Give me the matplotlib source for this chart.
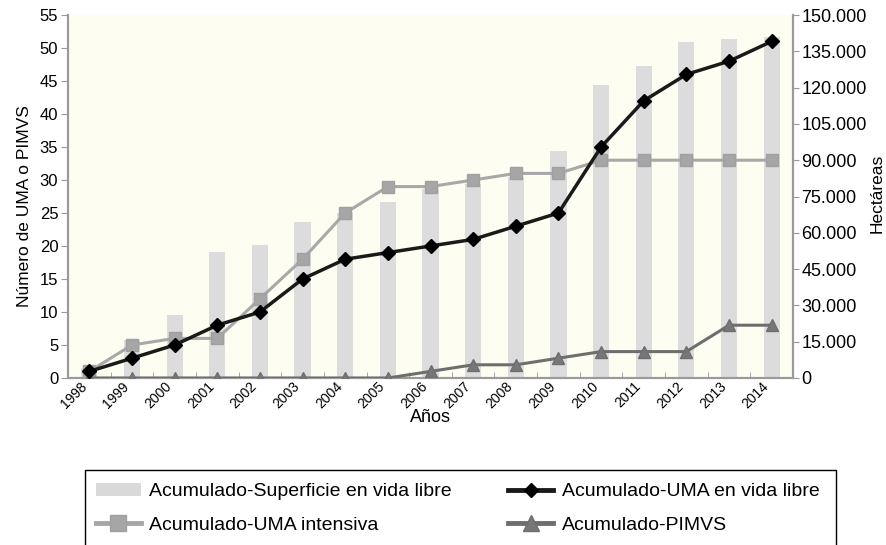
import matplotlib.pyplot as plt
import matplotlib.transforms as mtransforms
from matplotlib.ticker import FuncFormatter, FixedLocator
from matplotlib.patches import Patch, Rectangle
from matplotlib.lines import Line2D

plt.rcParams['font.family'] = ['Liberation Sans', 'DejaVu Sans']

# Datos
anios = ['1998', '1999', '2000', '2001', '2002', '2003', '2004', '2005', '2006',
         '2007', '2008', '2009', '2010', '2011', '2012', '2013', '2014']
superficie = [4000, 15500, 26000, 52000, 55000, 64500, 68000, 72800, 78000,
              80000, 83000, 94000, 121000, 129000, 139000, 140000, 141000]
uma_vida_libre = [1, 3, 5, 8, 10, 15, 18, 19, 20, 21, 23, 25, 35, 42, 46, 48, 51]
uma_intensiva = [1, 5, 6, 6, 12, 18, 25, 29, 29, 30, 31, 31, 33, 33, 33, 33, 33]
pimvs = [0, 0, 0, 0, 0, 0, 0, 0, 1, 2, 2, 3, 4, 4, 4, 8, 8]

x = list(range(len(anios)))

fig = plt.figure(figsize=(8.87, 5.45), dpi=100)
ax = fig.add_axes([68 / 887, 1 - 378 / 545, (793 - 68) / 887, (378 - 15) / 545])
ax2 = ax.twinx()

# barras en el eje derecho, lineas encima
ax.set_zorder(ax2.get_zorder() + 1)
ax.patch.set_visible(False)
ax2.patch.set_visible(True)
ax2.patch.set_facecolor('#fdfdf1')

ax2.bar(x, superficie, width=0.38, color='#dcdcdc', zorder=1)

ax.plot(x, uma_intensiva, color='#a8a8a8', lw=2.2, marker='s', ms=9, mec='#a0a0a0', mfc='#a6a6a6', zorder=3)
ax.plot(x, pimvs, color='#6e6e6e', lw=2.2, marker='^', ms=9, mec='#6e6e6e', mfc='#777777', zorder=3)
ax.plot(x, uma_vida_libre, color='#1a1a1a', lw=2.5, marker='D', ms=7, mec='black', mfc='black', zorder=4)

ax.set_xlim(-0.5, len(anios) - 0.5)
ax.set_ylim(0, 55)
ax2.set_ylim(0, 150000)
ax.set_yticks(range(0, 56, 5))
ax2.set_yticks(range(0, 150001, 15000))
ax2.yaxis.set_major_formatter(FuncFormatter(lambda v, p: f'{int(v):,}'.replace(',', '.')))

ax.set_xticks(x)
ax.set_xticklabels(anios, rotation=45, ha='right', va='top', fontsize=10)
# desplazar un poco las etiquetas a la derecha
desplaz = mtransforms.ScaledTranslation(6 / 100, 0, fig.dpi_scale_trans)
for lbl in ax.get_xticklabels():
    lbl.set_transform(lbl.get_transform() + desplaz)
ax.xaxis.set_minor_locator(FixedLocator([i + 0.5 for i in x[:-1]]))
ax.tick_params(axis='x', which='major', length=0, pad=1)
ax.tick_params(axis='x', which='minor', length=4, direction='in', color='#999999')
ax.tick_params(axis='y', labelsize=12, length=5, color='#999999', pad=2)
ax2.tick_params(axis='y', labelsize=13, length=4, color='#999999', pad=2)

for a in (ax, ax2):
    a.spines['top'].set_visible(False)
    for s in ('left', 'right', 'bottom'):
        a.spines[s].set_color('#9a9a9a')
        a.spines[s].set_linewidth(1.5)

# titulos de los ejes
fig.text(25 / 887, 1 - 206 / 545, 'Número de UMA o PIMVS', rotation=90,
         ha='center', va='center', fontsize=12.5)
fig.text(877 / 887, 1 - 193 / 545, 'Hectáreas', rotation=90,
         ha='center', va='center', fontsize=12.5)
fig.text(430 / 887, 1 - 418 / 545, 'Años', ha='center', va='center', fontsize=13)

handles = [
    Patch(facecolor='#d9d9d9', edgecolor='none'),
    Line2D([], [], color='#a6a6a6', lw=3.5, marker='s', ms=11, mfc='#a6a6a6', mec='#a0a0a0'),
    Line2D([], [], color='#1a1a1a', lw=3.5, marker='D', ms=7, mfc='black', mec='black'),
    Line2D([], [], color='#6e6e6e', lw=3.5, marker='^', ms=11, mfc='#777777', mec='#6e6e6e'),
]
labels = ['Acumulado-Superficie en vida libre', 'Acumulado-UMA intensiva',
          'Acumulado-UMA en vida libre', 'Acumulado-PIMVS']
leg = fig.legend(handles, labels, ncol=2, loc='upper left',
                 bbox_to_anchor=(90 / 887, 1 - 477 / 545),
                 fontsize=14, frameon=False,
                 handlelength=2.3, handletextpad=0.45,
                 labelspacing=0.8, borderpad=0.3, columnspacing=2.9,
                 borderaxespad=0)

# marco de la leyenda (su borde inferior queda fuera de la imagen)
fig.patches.append(Rectangle((85 / 887, -0.05), (836 - 85) / 887, 0.05 + 1 - 470 / 545,
                             transform=fig.transFigure, fill=False,
                             edgecolor='black', lw=1.0))

fig.savefig('out.png', dpi=100)
